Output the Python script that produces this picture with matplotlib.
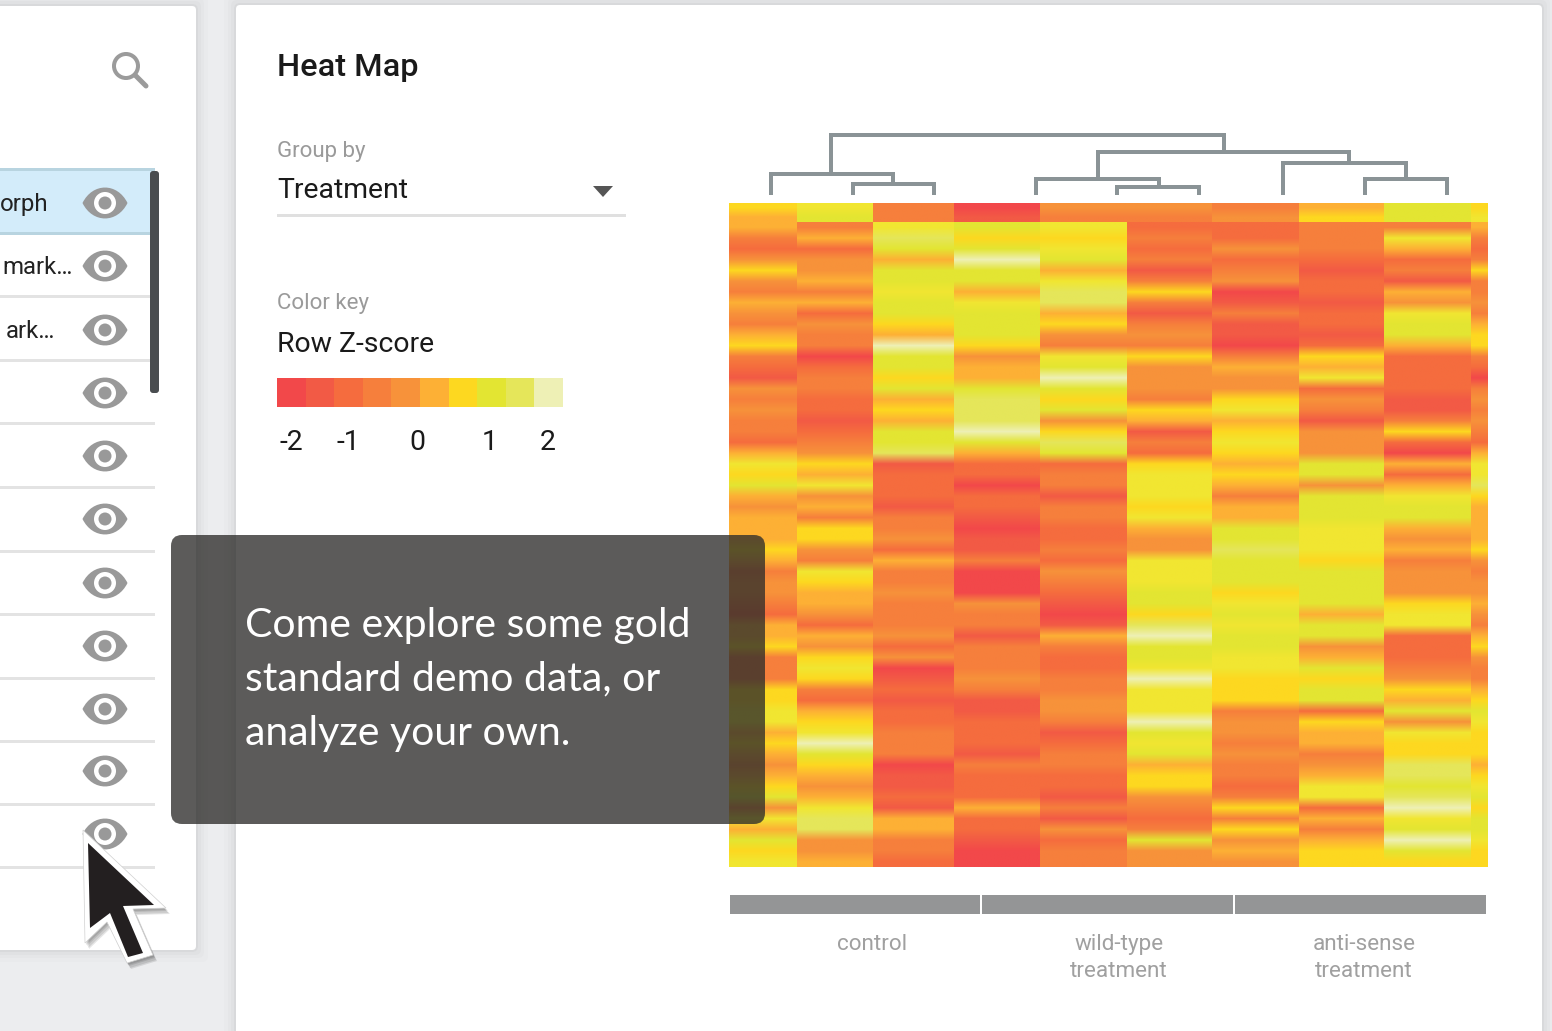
"""
Heat map panel from the demo screenshot, drawn in pixel coordinates
"""
import matplotlib
matplotlib.use("Agg")
import matplotlib.pyplot as plt
from matplotlib.colors import ListedColormap
from matplotlib.patches import Circle, FancyBboxPatch, PathPatch, Polygon, Rectangle
from matplotlib.path import Path
import numpy as np

# colour levels of the heat map, 0 is lowest z-score, one list per column, top to bottom
col_0 = [6,5,5,3,2,4,6,4,3,5,4,3,5,6,3,2,
         1,4,3,4,3,3,2,5,7,6,8,5,4,5,5,5,
         6,5,3,4,4,3,2,5,5,6,3,3,3,6,6,
         7,7,5,6,5,4,5,6,8,4,7,5,8,6,7]
col_1 = [7,8,3,5,2,4,4,5,3,5,2,4,3,3,0,2,
         3,3,2,2,1,2,3,4,6,5,7,4,5,3,6,6,
         4,3,7,6,5,5,4,2,5,4,6,7,6,3,2,
         5,6,7,10,8,6,5,4,5,7,9,9,4,4,5]
col_2 = [3,3,7,9,8,5,8,8,7,8,8,6,5,10,8,8,
         6,8,5,6,5,8,8,9,1,2,2,2,1,3,3,4,
         2,5,3,3,4,3,3,3,4,2,4,0,1,2,1,
         2,2,3,3,3,0,1,1,2,1,5,5,3,3,2]
col_3 = [0,1,8,6,8,10,8,8,5,7,8,8,8,6,4,5,
         5,8,9,9,9,10,8,5,2,2,0,2,2,1,0,1,
         1,3,0,0,0,4,3,3,1,3,3,3,4,3,1,
         1,2,2,2,1,3,2,2,2,5,2,2,1,0,0]
col_4 = [4,3,7,6,7,8,5,7,9,9,5,6,4,3,7,8,
         10,8,6,8,4,6,9,8,2,3,3,1,3,3,2,2,
         3,2,4,3,2,1,0,1,5,3,2,2,3,3,4,
         4,3,1,2,3,3,2,2,1,3,1,4,2,3,3]
col_5 = [4,3,2,3,2,3,1,3,6,3,1,3,4,3,6,4,
         4,4,3,6,5,1,3,2,6,7,7,7,6,7,5,4,
         4,7,7,7,8,8,6,9,10,8,8,7,10,7,7,
         7,10,8,7,8,5,6,6,4,3,2,3,8,4,4]
col_6 = [3,4,2,2,4,2,3,4,0,1,3,1,1,0,3,5,
         4,4,6,7,5,6,7,6,5,6,5,3,5,5,8,8,
         9,8,8,8,6,7,8,7,8,8,7,7,6,6,6,
         3,4,4,3,4,3,3,2,3,6,3,6,4,5,4]
col_7 = [5,6,3,3,3,2,1,2,2,1,2,2,1,2,6,5,
         7,2,4,3,1,4,4,4,8,8,4,8,8,8,7,7,
         7,6,8,8,8,8,5,8,8,4,5,8,6,8,8,
         2,6,5,5,3,4,5,7,7,2,5,3,5,6,6]
col_8 = [8,8,3,7,5,2,3,1,5,4,7,8,8,5,2,2,
         2,2,1,1,3,6,2,0,5,2,5,7,8,8,5,4,
         5,3,4,4,4,6,7,7,2,2,2,3,4,6,5,
         8,4,7,6,6,9,9,8,9,10,7,8,10,8,6]
col_9 = [6,7,5,3,2,3,6,3,3,4,3,5,6,6,3,2,
         0,3,4,3,4,3,2,5,7,7,9,6,5,5,5,5,
         6,4,3,4,4,5,4,3,5,6,4,3,3,5,6,
         8,7,6,6,6,5,6,7,8,6,8,8,7,6,6]
heat_columns = [col_0, col_1, col_2, col_3, col_4, col_5, col_6, col_7, col_8, col_9]

# column edges along the x axis of the screenshot
col_edges = [729, 797, 873, 954, 1040, 1127, 1212, 1299, 1384, 1471, 1488]

level_colors = ["#f2484a", "#f25a45", "#f56c3e", "#f67f3c", "#f7923a", "#fdb035",
                "#fdd820", "#f1e631", "#e3e532", "#e5e65a", "#eef0b5"]
key_levels = [0, 1, 2, 3, 4, 5, 6, 8, 9, 10]
key_ticks = ["-2", "-1", "0", "1", "2"]
key_tick_x = [291, 348, 417, 490, 548]

group_names = ["control", "wild-type\ntreatment", "anti-sense\ntreatment"]
group_left = [730, 982, 1235]
group_right = [980, 1233, 1486]
group_label_x = [872, 1119, 1364]

# dendrogram joins: left x, right x, bar y, left leg end, right leg end
dend_left = [831, 771, 853, 1098, 1036, 1117, 1283, 1365]
dend_right = [1224, 893, 934, 1349, 1159, 1199, 1406, 1447]
dend_bar = [135, 174, 184, 152, 179, 187, 163, 179]
dend_left_end = [174, 195, 195, 179, 195, 195, 195, 195]
dend_right_end = [152, 184, 195, 163, 187, 195, 179, 195]

eye_y = [203, 266, 330, 393, 456, 519, 583, 646, 709, 771, 834]
row_lines = [233, 296, 360, 423, 487, 551, 614, 678, 741, 804, 867]

ui_font = "Roboto"
grey_text = "#9a9a9a"

fig = plt.figure(figsize=(15.52, 10.31), dpi=100, facecolor="#ecedef")
ax = fig.add_axes([0, 0, 1, 1])


def px(n):
    return n * 72 / 100


def panel(x0, y0, x1, y1):
    for grow, a in [(12, 0.012), (8, 0.015), (5, 0.02), (2, 0.03)]:
        ax.add_patch(FancyBboxPatch((x0 - grow, y0 - grow), x1 - x0 + 2 * grow, y1 - y0 + 2 * grow,
                                    boxstyle="round,pad=0,rounding_size=6", fc="black", ec="none", alpha=a))
    ax.add_patch(FancyBboxPatch((x0, y0), x1 - x0, y1 - y0, boxstyle="round,pad=0,rounding_size=4",
                                fc="white", ec="none"))


def eye(cx, cy):
    w, h = 22.5, 15.5
    verts = [(cx - w, cy), (cx - w * 0.55, cy - h * 1.33), (cx + w * 0.55, cy - h * 1.33), (cx + w, cy),
             (cx + w * 0.55, cy + h * 1.33), (cx - w * 0.55, cy + h * 1.33), (cx - w, cy), (cx - w, cy)]
    codes = [Path.MOVETO, Path.CURVE4, Path.CURVE4, Path.CURVE4, Path.CURVE4, Path.CURVE4, Path.CURVE4,
             Path.CLOSEPOLY]
    ax.add_patch(PathPatch(Path(verts, codes), fc="#999999", ec="none", zorder=3))
    ax.add_patch(Circle((cx, cy), 11, fc="white", ec="none", zorder=3))
    ax.add_patch(Circle((cx, cy), 6.5, fc="#999999", ec="none", zorder=3))


panel(-20, 6, 196, 950)
panel(236, 5, 1542, 1060)

# left list
ax.add_patch(Rectangle((0, 168), 155, 66, fc="#d3ecfa", ec="none"))
ax.add_patch(Rectangle((0, 168), 155, 3, fc="#b8d4e0", ec="none"))
for y in row_lines:
    color = "#b8d4e0" if y == row_lines[0] else "#e3e3e3"
    ax.add_patch(Rectangle((0, y - 1.5), 155, 3, fc=color, ec="none"))
ax.add_patch(FancyBboxPatch((150, 171), 9, 222, boxstyle="round,pad=0,rounding_size=3",
                            fc="#4a4d50", ec="none", zorder=2))
for y in eye_y:
    eye(105, y)
ax.text(0, 205, "orph", fontsize=px(24), family=ui_font, color="#222222", va="center", ha="left")
ax.text(2, 268, "mark…", fontsize=px(24), family=ui_font, color="#222222", va="center", ha="left")
ax.text(55, 331, "ark…", fontsize=px(24), family=ui_font, color="#222222", va="center", ha="right")

# search icon
ax.add_patch(Circle((126, 66), 12, fc="none", ec="#9b9b9b", lw=px(4)))
ax.plot([135, 146], [75, 86], color="#9b9b9b", lw=px(5), solid_capstyle="round")

# controls
ax.text(277, 67, "Heat Map", fontsize=px(32.5), family=ui_font, weight="medium", color="#1a1a1a", va="center")
ax.text(277, 151, "Group by", fontsize=px(22.3), family=ui_font, color=grey_text, va="center")
ax.text(277, 191, "Treatment", fontsize=px(28.4), family=ui_font, color="#1a1a1a", va="center")
ax.add_patch(Polygon([(593, 186), (613, 186), (603, 197)], fc="#555555", ec="none"))
ax.add_patch(Rectangle((277, 214), 349, 3, fc="#e0e0e0", ec="none"))
ax.text(277, 304, "Color key", fontsize=px(22.3), family=ui_font, color=grey_text, va="center")
ax.text(277, 344, "Row Z-score", fontsize=px(28.4), family=ui_font, color="#1a1a1a", va="center")

# colour key and heat map go through the same scale
cmap = ListedColormap(level_colors)
key_edges = np.linspace(277, 563, len(key_levels) + 1)
ax.pcolormesh(key_edges, [378, 407], np.array([key_levels]), cmap=cmap, vmin=-0.5, vmax=10.5)
for label, x in zip(key_ticks, key_tick_x):
    ax.text(x, 442, label, fontsize=px(28.4), family=ui_font, color="#1a1a1a", va="center", ha="center")

# each column is its own image so the stripes blur vertically but not across columns,
# the first two rows are a separate block with a hard edge under them
for i, col in enumerate(heat_columns):
    values = np.array(col)[:, None]
    ax.imshow(values[:2], cmap=cmap, vmin=-0.5, vmax=10.5, aspect="auto",
              extent=(col_edges[i], col_edges[i + 1], 222, 203),
              interpolation="bilinear", interpolation_stage="rgba", zorder=2)
    ax.imshow(values[2:], cmap=cmap, vmin=-0.5, vmax=10.5, aspect="auto",
              extent=(col_edges[i], col_edges[i + 1], 867, 222),
              interpolation="bilinear", interpolation_stage="rgba", zorder=2)

# dendrogram
for i in range(len(dend_left)):
    ax.plot([dend_left[i], dend_left[i], dend_right[i], dend_right[i]],
            [dend_left_end[i], dend_bar[i], dend_bar[i], dend_right_end[i]],
            color="#8a9396", lw=px(4), solid_joinstyle="miter", solid_capstyle="butt")

# group bars
for name, x0, x1, lx in zip(group_names, group_left, group_right, group_label_x):
    ax.add_patch(Rectangle((x0, 895), x1 - x0, 19, fc="#949596", ec="none"))
    for j, part in enumerate(name.split("\n")):
        ax.text(lx, 950 + 27 * j, part, fontsize=px(22.5), family=ui_font, color="#a0a0a0",
                va="baseline", ha="center")

# tooltip
ax.add_patch(FancyBboxPatch((171, 535), 594, 289, boxstyle="round,pad=0,rounding_size=11",
                            fc="#2e2d2b", ec="none", alpha=0.78, zorder=5))
for line, y in zip(["Come explore some gold", "standard demo data, or", "analyze your own."], [625, 679, 734]):
    ax.text(245, y, line, fontsize=px(41), family="Lato", color="white", va="center", zorder=6)

# cursor
outer = [(83, 830), (85, 943), (107, 922), (127, 963), (153, 955), (133, 909), (166, 908)]
inner = [(88, 843), (90, 928), (110, 913), (128, 957), (143, 953), (123, 906), (154, 905)]
for dx, dy in [(1, 2), (2, 3), (3, 5), (4, 6)]:
    ax.add_patch(Polygon([(x + dx, y + dy) for x, y in outer], fc="black", ec="none", alpha=0.1, zorder=7))
ax.add_patch(Polygon(outer, fc="white", ec="#d0d0d0", lw=0.5, zorder=8))
ax.add_patch(Polygon(inner, fc="#231f20", ec="none", zorder=9))

ax.set_xlim(0, 1552)
ax.set_ylim(1031, 0)
ax.axis("off")

fig.savefig("out.png", dpi=100, facecolor=fig.get_facecolor())
